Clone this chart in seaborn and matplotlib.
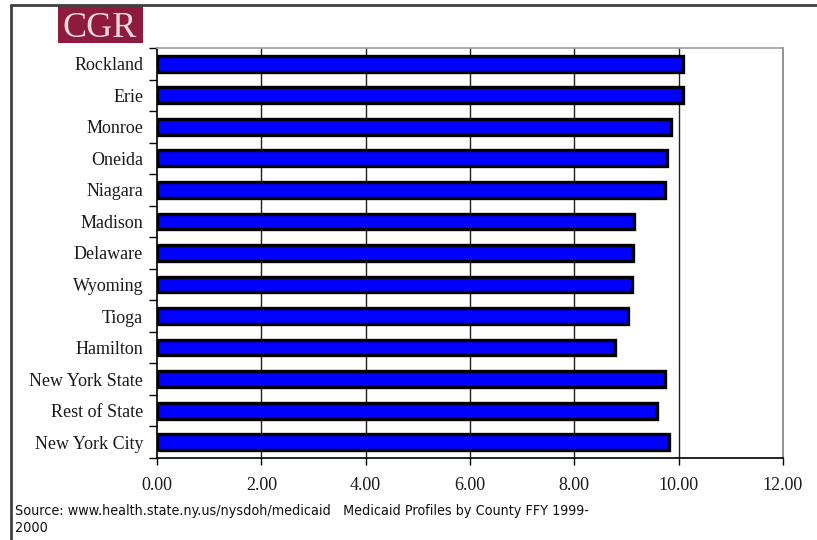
import matplotlib
matplotlib.use("Agg")
import matplotlib.pyplot as plt
from matplotlib.patches import Rectangle
from matplotlib.lines import Line2D
import seaborn as sns
import pandas as pd

counties = ["Rockland", "Erie", "Monroe", "Oneida", "Niagara", "Madison",
            "Delaware", "Wyoming", "Tioga", "Hamilton", "New York State",
            "Rest of State", "New York City"]
values = [10.08, 10.08, 9.86, 9.77, 9.74, 9.15, 9.13, 9.11, 9.03, 8.78,
          9.74, 9.59, 9.81]
xticks = [0, 2, 4, 6, 8, 10, 12]
source_lines = ["Source: www.health.state.ny.us/nysdoh/medicaid   "
                "Medicaid Profiles by County FFY 1999-", "2000"]

df = pd.DataFrame({"county": counties, "value": values})

sns.set_theme(style="white")
plt.rcParams["font.family"] = ["Liberation Serif", "DejaVu Serif"]

W, H = 817, 540
fig = plt.figure(figsize=(W / 100, H / 100), dpi=100)
ax = fig.add_axes([157 / W, 1 - 458 / H, (783 - 157) / W, (458 - 48) / H])

sns.barplot(data=df, x="value", y="county", orient="h", color="#0000FF",
            width=0.5, edgecolor="black", linewidth=2.4, saturation=1,
            ax=ax, zorder=3)

ax.set_xlim(0, 12)
ax.set_ylim(len(counties) - 0.5, -0.5)
ax.set_xticks(xticks)
ax.set_xticklabels([f"{v:.2f}" for v in xticks], fontsize=13, color="#1a1a1a")
ax.set_yticks([i - 0.5 for i in range(len(counties) + 1)], minor=False)
ax.set_yticklabels([])
ax.set_yticks(range(len(counties)), minor=True)
ax.set_yticklabels(counties, minor=True, fontsize=13, color="#1a1a1a")
ax.tick_params(axis="y", which="minor", length=0, pad=10)
ax.tick_params(axis="y", which="major", length=6, width=1, color="black",
               direction="out", left=True)
ax.tick_params(axis="x", length=5, width=1, color="black", direction="out",
               bottom=True, pad=9)
ax.set_xlabel("")
ax.set_ylabel("")

for v in xticks[1:-1]:
    ax.axvline(v, color="#202020", linewidth=1, zorder=1)

ax.spines["left"].set_color("black")
ax.spines["bottom"].set_color("black")
ax.spines["top"].set_color("#A0A0A0")
ax.spines["right"].set_color("#808080")
for s in ax.spines.values():
    s.set_linewidth(1.2)
    s.set_visible(True)

# outer frame (top and left edges)
fig.add_artist(Line2D([11 / W, 11 / W], [0, 1 - 5 / H], color="#404040",
                      linewidth=2, transform=fig.transFigure))
fig.add_artist(Line2D([11 / W, 1], [1 - 5 / H, 1 - 5 / H], color="#404040",
                      linewidth=2, transform=fig.transFigure))

# logo
fig.add_artist(Rectangle((58 / W, 1 - 43 / H), (143 - 58) / W, 37 / H,
                         facecolor="#8E1B3E", edgecolor="none",
                         transform=fig.transFigure))
fig.text(100 / W, 1 - 37 / H, "CGR", color="#F3D9DF", fontsize=26,
         ha="center", va="baseline", family="Liberation Serif")

for i, line in enumerate(source_lines):
    fig.text(15 / W, 1 - (515 + 17 * i) / H, line, fontsize=10.3, ha="left",
             va="baseline", family="DejaVu Sans", fontstretch="condensed",
             color="#111111")

fig.savefig("out.png", dpi=100)
